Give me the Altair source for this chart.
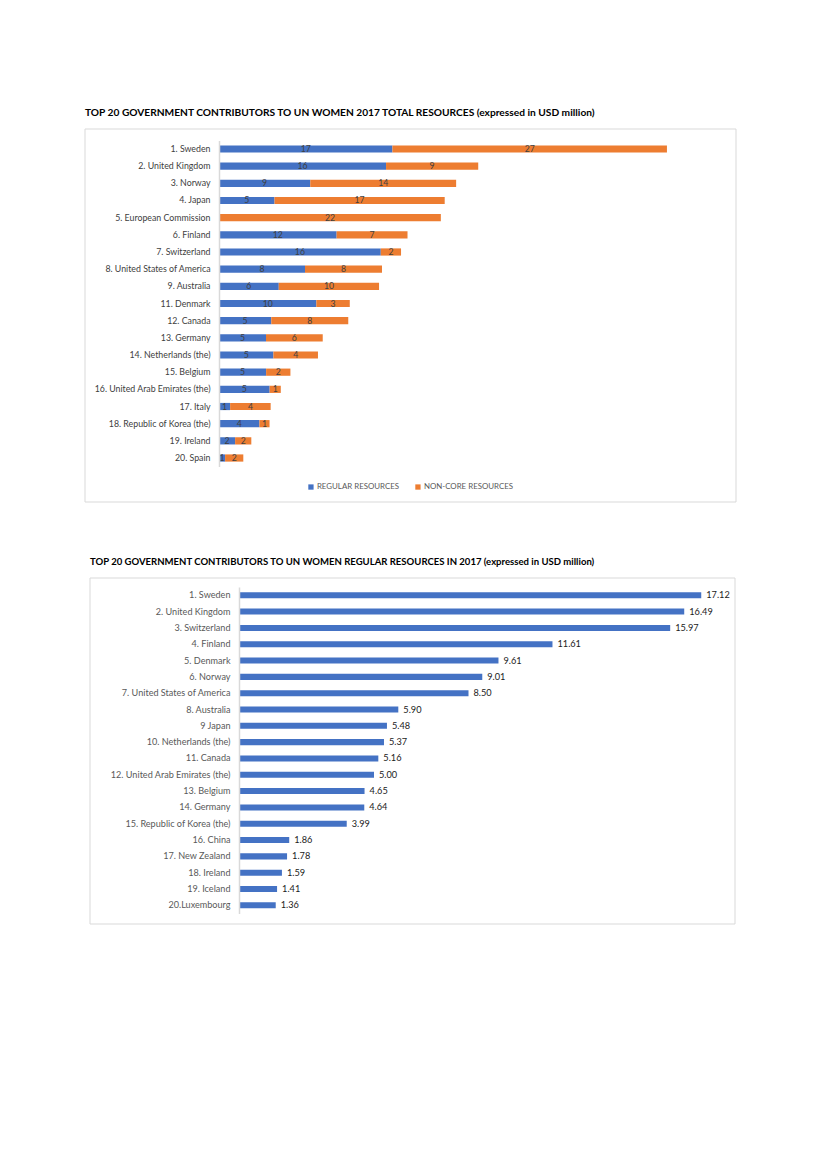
import altair as alt
import pandas as pd

# ---------------- data ----------------
countries1 = ["1. Sweden", "2. United Kingdom", "3. Norway", "4. Japan",
              "5. European Commission", "6. Finland", "7. Switzerland",
              "8. United States of America", "9. Australia", "11. Denmark",
              "12. Canada", "13. Germany", "14. Netherlands (the)", "15. Belgium",
              "16. United Arab Emirates (the)", "17. Italy",
              "18. Republic of Korea (the)", "19. Ireland", "20. Spain"]
regular1 = [17.12, 16.49, 9.01, 5.48, 0.0, 11.61, 15.97, 8.49, 5.90, 9.61,
            5.16, 4.64, 5.37, 4.65, 5.00, 1.1, 3.99, 1.59, 0.6]
noncore1 = [27.1, 9.1, 14.4, 16.8, 21.9, 7.0, 2.0, 7.6, 9.9, 3.3,
            7.6, 5.6, 4.4, 2.4, 1.1, 4.0, 1.0, 1.6, 1.8]
series_names = ["REGULAR RESOURCES", "NON-CORE RESOURCES"]
series_colors = ["#4472C4", "#ED7D31"]

countries2 = ["1. Sweden", "2. United Kingdom", "3. Switzerland", "4. Finland",
              "5. Denmark", "6. Norway", "7. United States of America",
              "8. Australia", "9 Japan", "10. Netherlands (the)", "11. Canada",
              "12. United Arab Emirates (the)", "13. Belgium", "14. Germany",
              "15. Republic of Korea (the)", "16. China", "17. New Zealand",
              "18. Ireland", "19. Iceland", "20.Luxembourg"]
regular2 = [17.12, 16.49, 15.97, 11.61, 9.61, 9.01, 8.50, 5.90, 5.48, 5.37,
            5.16, 5.00, 4.65, 4.64, 3.99, 1.86, 1.78, 1.59, 1.41, 1.36]

title1 = "TOP 20 GOVERNMENT CONTRIBUTORS TO UN WOMEN 2017 TOTAL RESOURCES (expressed in USD million)"
title2 = "TOP 20 GOVERNMENT CONTRIBUTORS TO UN WOMEN REGULAR RESOURCES IN 2017 (expressed in USD million)"

FONT = "Lato"

# ---------------- chart 1 ----------------
rows = []
for c, r, n in zip(countries1, regular1, noncore1):
    rows.append({"country": c, "series": series_names[0], "value": r, "ord": 0})
    rows.append({"country": c, "series": series_names[1], "value": n, "ord": 1})
df1 = pd.DataFrame(rows)

W1, H1 = 651, 373
xs1 = alt.Scale(domain=[0, 50], range=[134, 640.5], nice=False, zero=True)
ys1 = alt.Scale(range=[11.4, 337.6], paddingInner=0.58, paddingOuter=0.29)

box1 = alt.Chart(pd.DataFrame({"a": [0]})).mark_rect(
    fill="white", stroke="#d9d9d9", strokeWidth=1
).encode(x=alt.value(0), x2=alt.value(W1), y=alt.value(0), y2=alt.value(H1))

base1 = alt.Chart(df1).transform_stack(
    stack="value", groupby=["country"], as_=["x0", "x1"],
    sort=[alt.SortField("ord", order="ascending")]
).transform_calculate(mid="(datum.x0 + datum.x1) / 2")

bars1 = base1.mark_bar().encode(
    x=alt.X("x0:Q", scale=xs1, axis=None),
    x2="x1:Q",
    y=alt.Y("country:N", sort=countries1, scale=ys1,
            axis=alt.Axis(title=None, offset=-134, ticks=False, grid=False,
                          domainColor="#d9d9d9", domainWidth=1.5, zindex=1,
                          labelColor="#404040", labelFont=FONT,
                          labelFontSize=8.8, labelPadding=9, labelLimit=200)),
    color=alt.Color("series:N",
                    scale=alt.Scale(domain=series_names, range=series_colors),
                    legend=alt.Legend(title=None, orient="none", legendX=222,
                                      legendY=354, direction="horizontal",
                                      symbolType="square", symbolSize=28,
                                      symbolStrokeWidth=0, labelFontSize=7.9,
                                      labelColor="#595959", labelFont=FONT,
                                      columnPadding=14, labelOffset=2,
                                      zindex=1)),
)

text1 = base1.transform_filter("datum.value > 0").mark_text(
    fontSize=8.7, color="#404040", font=FONT, baseline="middle"
).encode(
    x=alt.X("mid:Q", scale=xs1, axis=None),
    y=alt.Y("country:N", sort=countries1, scale=ys1),
    text=alt.Text("value:Q", format=".0f"),
)

chart1 = alt.layer(box1, bars1, text1).properties(
    width=W1, height=H1,
    title=alt.TitleParams(title1, anchor="start", frame="group", font=FONT,
                          fontSize=10.2, fontWeight="bold", color="#000000",
                          offset=10.5),
)

# ---------------- chart 2 ----------------
df2 = pd.DataFrame({"country": countries2, "value": regular2})
H2 = 346
xs2 = alt.Scale(domain=[0, 18], range=[154, 640], nice=False, zero=True)
ys2 = alt.Scale(range=[9.1, 335.5], paddingInner=0.63, paddingOuter=0.315)

box2 = alt.Chart(pd.DataFrame({"a": [0]})).mark_rect(
    fill="white", stroke="#d9d9d9", strokeWidth=1
).encode(x=alt.value(5), x2=alt.value(W1 - 1), y=alt.value(0), y2=alt.value(H2))

bars2 = alt.Chart(df2).mark_bar(color="#4472C4").encode(
    x=alt.X("value:Q", scale=xs2, axis=None),
    y=alt.Y("country:N", sort=countries2, scale=ys2,
            axis=alt.Axis(title=None, offset=-154, ticks=False, grid=False,
                          domainColor="#d9d9d9", domainWidth=1.5, zindex=1,
                          labelColor="#595959", labelFont=FONT,
                          labelFontSize=9.1, labelPadding=9, labelLimit=200)),
)

text2 = alt.Chart(df2).mark_text(
    align="left", dx=5, fontSize=9.2, color="#1a1a1a", font=FONT,
    baseline="middle"
).encode(
    x=alt.X("value:Q", scale=xs2, axis=None),
    y=alt.Y("country:N", sort=countries2, scale=ys2),
    text=alt.Text("value:Q", format=".2f"),
)

chart2 = alt.layer(box2, bars2, text2).properties(
    width=W1, height=H2,
    title=alt.TitleParams(title2, anchor="start", frame="group", font=FONT,
                          fontSize=9.55, fontWeight="bold", color="#000000",
                          offset=11, dx=5),
)

chart = alt.vconcat(chart1, chart2, spacing=76, bounds="flush").properties(
    padding={"left": 76, "top": 99, "right": 5, "bottom": 5},
    background="white",
).configure_view(strokeWidth=0)

chart.save("out.html", embed_options={"renderer": "svg", "actions": False})
